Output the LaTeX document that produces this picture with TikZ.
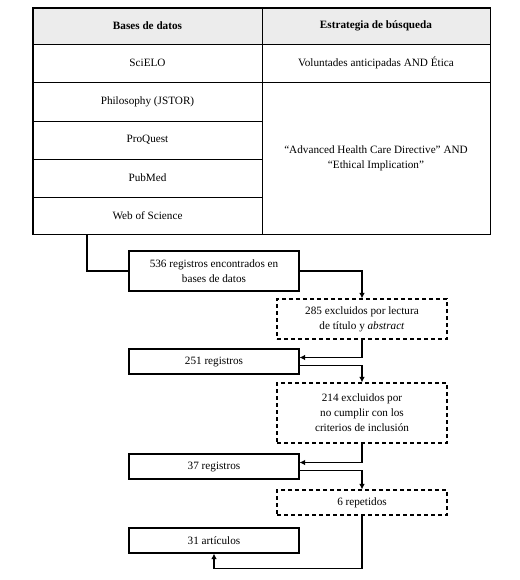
\documentclass[tikz,border=0pt]{standalone}
\usepackage{fontspec}
\setmainfont{Liberation Serif}
\usetikzlibrary{arrows.meta}

\begin{document}
\begin{tikzpicture}[x=1pt, y=-1pt,
    cell/.style={draw, line width=0.8pt, inner sep=0pt, align=center, font=\fontsize{11.2}{15}\selectfont},
    headcell/.style={cell, fill=gray!15, font=\fontsize{11.2}{15}\selectfont\bfseries},
    stage/.style={draw, line width=1.1pt, minimum width=170pt, inner sep=0pt, align=center, font=\fontsize{11.2}{15}\selectfont},
    dropped/.style={stage, dash pattern=on 4pt off 3pt},
    flow/.style={line width=1.1pt, -{Latex[length=5.5pt,width=5.5pt]}}]
    \useasboundingbox (0,0) rectangle (519,580);

    % Table header
    \node[headcell, minimum width=229pt, minimum height=36pt] (hbases) at (147.5,26) {Bases de datos};
    \node[headcell, minimum width=228pt, minimum height=36pt] (hstrat) at (376,26) {Estrategia de búsqueda};

    % Databases
    \node[cell, minimum width=229pt, minimum height=38pt] (scielo) at (147.5,63) {SciELO};
    \node[cell, minimum width=229pt, minimum height=39pt] (jstor) at (147.5,101.5) {Philosophy (JSTOR)};
    \node[cell, minimum width=229pt, minimum height=38pt] (proquest) at (147.5,140) {ProQuest};
    \node[cell, minimum width=229pt, minimum height=38pt] (pubmed) at (147.5,178) {PubMed};
    \node[cell, minimum width=229pt, minimum height=37pt] (wos) at (147.5,215.5) {Web of Science};

    % Search strings
    \node[cell, minimum width=228pt, minimum height=38pt] (spanish) at (376,63) {Voluntades anticipadas AND Ética};
    \node[cell, minimum width=228pt, minimum height=152pt] (english) at (376,158)
        {“Advanced Health Care Directive” AND\\“Ethical Implication”};

    % Outer frame
    \draw[line width=1.3pt] (hbases.north west) rectangle (english.south east);

    % Flow stages
    \node[stage, minimum height=40pt] (found) at (214,271) {536 registros encontrados en\\bases de datos};
    \node[dropped, minimum height=40pt] (byTitle) at (362,319) {285 excluidos por lectura\\de título y \textit{abstract}};
    \node[stage, minimum height=25pt] (reg251) at (214,361.5) {251 registros};
    \node[dropped, minimum height=60pt] (byCriteria) at (362,413) {214 excluidos por\\no cumplir con los\\criterios de inclusión};
    \node[stage, minimum height=25pt] (reg37) at (214,466.5) {37 registros};
    \node[dropped, minimum height=25pt] (repeated) at (362,502.5) {6 repetidos};
    \node[stage, minimum height=25pt] (articles) at (214,540.5) {31 artículos};

    % Connectors
    \coordinate (tableout) at (87,234);
    \draw[line width=1.1pt] (tableout) |- (found.west);
    \draw[flow] (found.east) -| (byTitle.north);
    \draw[flow] (byTitle.south) |- ([yshift=4pt]reg251.east);
    \draw[flow] ([yshift=-4pt]reg251.east) -| (byCriteria.north);
    \draw[flow] (byCriteria.south) |- ([yshift=4pt]reg37.east);
    \draw[flow] ([yshift=-4pt]reg37.east) -| (repeated.north);
    \draw[flow] (repeated.south) -- ++(0,53) -| (articles.south);
\end{tikzpicture}
\end{document}
